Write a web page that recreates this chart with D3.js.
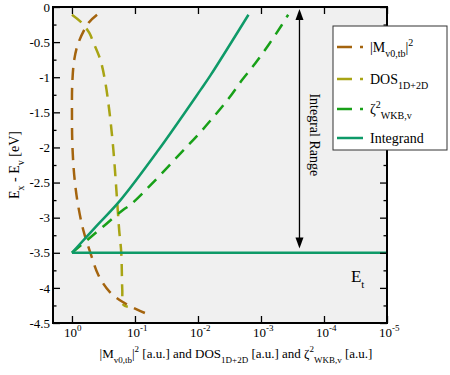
<!DOCTYPE html>
<html>
<head>
<meta charset="utf-8">
<script src="https://cdn.jsdelivr.net/npm/d3@7"></script>
<style>
  body { margin: 0; background: #fff; }
  svg, svg text, svg tspan { font-family: 'Liberation Serif', 'Times New Roman', Times, 'DejaVu Serif', serif !important; }
  svg text { fill: #000; }
</style>
</head>
<body>
<div id="chart"></div>
<script>
// [value, energy] pairs
const matrixElem = [
  [0.40, -0.11], [0.55, -0.23], [0.79, -0.51], [0.92, -0.75], [0.99, -1.1],
  [1.0, -1.5], [0.99, -1.9], [0.94, -2.3], [0.87, -2.6], [0.79, -2.85],
  [0.66, -3.18], [0.51, -3.5], [0.38, -3.82], [0.25, -4.06], [0.15, -4.21],
  [0.092, -4.31], [0.057, -4.39]
];
const dos = [
  [1.0, -0.11], [0.69, -0.23], [0.53, -0.37], [0.46, -0.5], [0.355, -0.75],
  [0.30, -1.04], [0.256, -1.47], [0.22, -2.04], [0.19, -2.82], [0.178, -3.18],
  [0.165, -3.5], [0.159, -4.03], [0.153, -4.24], [0.13, -4.27]
];
const zetaWkb = [
  [1.0, -3.5], [0.575, -3.32], [0.295, -3.10], [0.155, -2.89], [0.112, -2.80],
  [0.0158, -2.01], [0.0091, -1.78], [0.0056, -1.56], [0.00324, -1.30],
  [0.0020, -1.04], [0.00123, -0.80], [0.00076, -0.54], [0.00047, -0.26],
  [0.00037, -0.11]
];
const integrand = [
  [1.0, -3.5], [0.42, -3.13], [0.17, -2.75], [0.0427, -2.04],
  [0.0091, -1.18], [0.0063, -0.97], [0.00158, -0.11]
];
const eTrap = [[1.0, -3.5], [1e-5, -3.5]];

const xTicks = [1, 1e-1, 1e-2, 1e-3, 1e-4, 1e-5];
const xTickExp = ['0', '-1', '-2', '-3', '-4', '-5'];
const yTicks = [0, -0.5, -1, -1.5, -2, -2.5, -3, -3.5, -4, -4.5];
const yMinor = [-0.25, -0.75, -1.25, -1.75, -2.25, -2.75, -3.25, -3.75, -4.25];

const series = [
  { data: matrixElem, color: '#a4640e', dash: '12,8',
    label: [['|M'], ['v0,tb', 'sub'], ['|'], ['2', 'sup']] },
  { data: dos, color: '#a8a414', dash: '12,8',
    label: [['DOS'], ['1D+2D', 'sub']] },
  { data: zetaWkb, color: '#18a018', dash: '12,8',
    label: [['ζ'], ['2', 'sup'], ['WKB,v', 'sub']] },
  { data: integrand, color: '#0e9a68', dash: null,
    label: [['Integrand']] },
];

const svgWidth = 450;
const svgHeight = 375;
const margin = { top: 7, right: 63, bottom: 52, left: 53 };
const width = svgWidth - margin.left - margin.right;
const height = svgHeight - margin.top - margin.bottom;

const svg = d3.select('#chart').append('svg')
  .attr('width', svgWidth)
  .attr('height', svgHeight)
  .attr('font-family', "'Liberation Serif', serif");

const g = svg.append('g')
  .attr('transform', `translate(${margin.left},${margin.top})`);

const x = d3.scaleLog().domain([2, 1e-5]).range([0, width]);
const y = d3.scaleLinear().domain([0, -4.5]).range([0, height]);

// sub/superscript text helper
function richText(sel, parts, size, subSize) {
  let off = 0;
  sel.style('font-size', size + 'px');
  parts.forEach(p => {
    const target = p[1] === 'sub' ? size * 0.35 : p[1] === 'sup' ? -size * 0.45 : 0;
    sel.append('tspan')
      .attr('dy', target - off)
      .style('font-size', (p[1] ? subSize : size) + 'px')
      .text(p[0]);
    off = target;
  });
  return sel;
}

g.append('rect')
  .attr('width', width)
  .attr('height', height)
  .attr('fill', '#f0f0f0');

const line = d3.line()
  .x(d => x(d[0]))
  .y(d => y(d[1]))
  .curve(d3.curveCatmullRom);

series.forEach(s => {
  g.append('path')
    .datum(s.data)
    .attr('fill', 'none')
    .attr('stroke', s.color)
    .attr('stroke-width', 2.5)
    .attr('stroke-dasharray', s.dash)
    .attr('d', line);
});

g.append('path')
  .datum(eTrap)
  .attr('fill', 'none')
  .attr('stroke', '#0e9a68')
  .attr('stroke-width', 2.5)
  .attr('d', d3.line().x(d => x(d[0])).y(d => y(d[1])));

// integral range arrow
const arrowX = x(2.45e-4);
const aTop = y(-0.03);
const aBot = y(-3.44);
g.append('line')
  .attr('x1', arrowX).attr('x2', arrowX)
  .attr('y1', aTop + 8).attr('y2', aBot - 8)
  .attr('stroke', '#000').attr('stroke-width', 1.3);
g.append('path')
  .attr('d', `M${arrowX},${aTop} l-4,11 l8,0 z`)
  .attr('fill', '#000');
g.append('path')
  .attr('d', `M${arrowX},${aBot} l-4,-11 l8,0 z`)
  .attr('fill', '#000');

g.append('text')
  .attr('transform', `translate(${x(1.39e-4) - 5},${y(-1.82)}) rotate(90)`)
  .attr('text-anchor', 'middle')
  .style('font-size', '14px')
  .text('Integral Range');

richText(g.append('text')
  .attr('x', x(3e-5) - 6)
  .attr('y', y(-3.91)), [['E'], ['t', 'sub']], 17, 11);

// axes with inward ticks
const axB = g.append('g').attr('transform', `translate(0,${height})`)
  .call(d3.axisBottom(x).tickValues(xTicks).tickSize(-7).tickFormat(''));
const axT = g.append('g')
  .call(d3.axisTop(x).tickValues(xTicks).tickSize(-7).tickFormat(''));
const axL = g.append('g')
  .call(d3.axisLeft(y).tickValues(yTicks).tickSize(-7).tickPadding(3)
    .tickFormat(d => String(d)));
const axLm = g.append('g')
  .call(d3.axisLeft(y).tickValues(yMinor).tickSize(-3.5).tickFormat(''));
const axR = g.append('g').attr('transform', `translate(${width},0)`)
  .call(d3.axisRight(y).tickValues(yTicks).tickSize(-7).tickFormat(''));
const axRm = g.append('g').attr('transform', `translate(${width},0)`)
  .call(d3.axisRight(y).tickValues(yMinor).tickSize(-3.5).tickFormat(''));

[axB, axT, axL, axLm, axR, axRm].forEach(a => {
  a.attr('font-family', null).attr('font-size', null);
  a.select('.domain').remove();
  a.selectAll('line').attr('stroke', '#000').attr('stroke-width', 1.3);
});
axL.selectAll('text')
  .style('font-size', '13px')
  .attr('fill', '#000');

g.append('rect')
  .attr('width', width)
  .attr('height', height)
  .attr('fill', 'none')
  .attr('stroke', '#000')
  .attr('stroke-width', 2);

xTicks.forEach((t, i) => {
  richText(g.append('text')
    .attr('x', x(t) - 8)
    .attr('y', height + 14), [['10'], [xTickExp[i], 'sup']], 13, 9);
});

richText(svg.append('text')
  .attr('x', 236)
  .attr('y', 358)
  .attr('text-anchor', 'middle'),
  [['|M'], ['v0,tb', 'sub'], ['|'], ['2', 'sup'], [' [a.u.] and DOS'], ['1D+2D', 'sub'],
   [' [a.u.] and ζ'], ['2', 'sup'], ['WKB,v', 'sub'], [' [a.u.]']], 13, 9);

richText(svg.append('text')
  .attr('transform', 'translate(19,165) rotate(-90)')
  .attr('text-anchor', 'middle'),
  [['E'], ['x', 'sub'], [' - E'], ['v', 'sub'], [' [eV]']], 14, 10);

// legend
const legend = svg.append('g').attr('transform', 'translate(333,26)');
legend.append('rect')
  .attr('width', 114)
  .attr('height', 124)
  .attr('fill', '#fff')
  .attr('stroke', '#333')
  .attr('stroke-width', 1);

const rowY = [21, 53, 83, 112];
series.forEach((s, i) => {
  legend.append('line')
    .attr('x1', 4).attr('x2', 30)
    .attr('y1', rowY[i]).attr('y2', rowY[i])
    .attr('stroke', s.color)
    .attr('stroke-width', 2.5)
    .attr('stroke-dasharray', s.dash ? '15,8' : null);
  richText(legend.append('text')
    .attr('x', 37)
    .attr('y', rowY[i] + 5), s.label, 14, 10);
});
</script>
</body>
</html>
